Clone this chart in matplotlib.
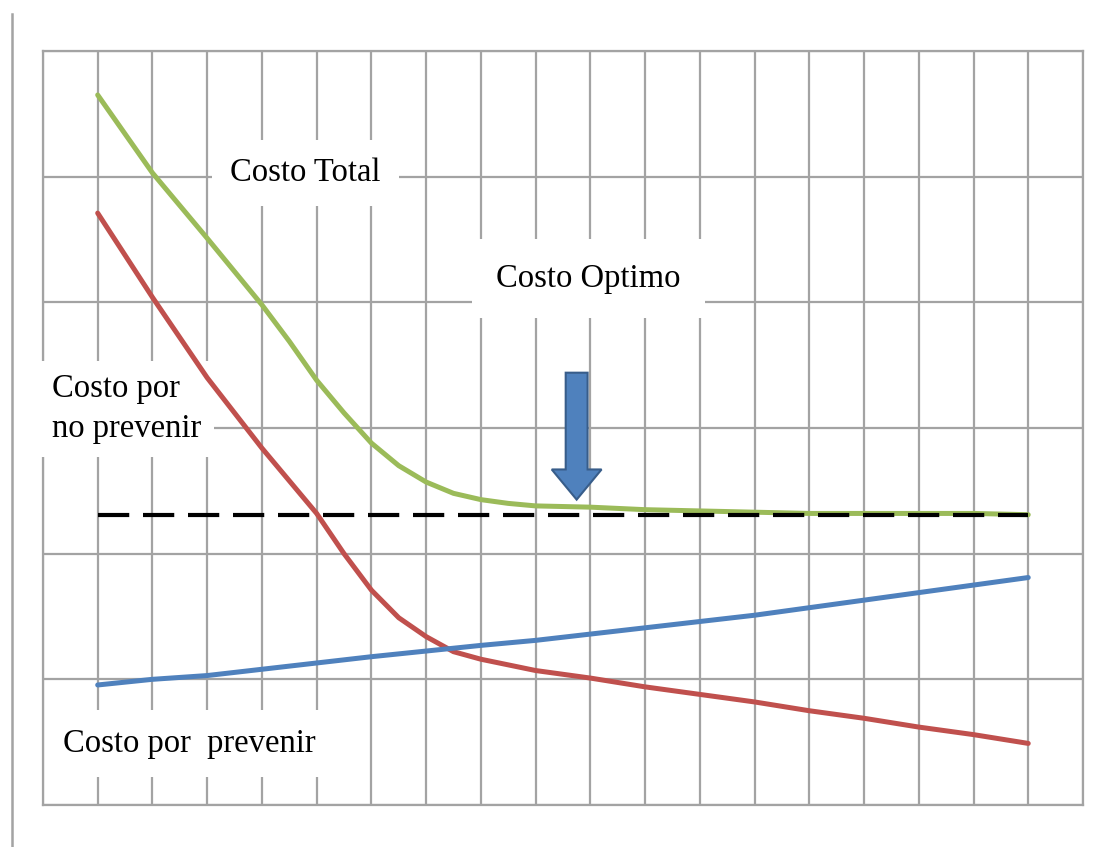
import matplotlib
matplotlib.use('Agg')
from matplotlib import pyplot as plt
from matplotlib.lines import Line2D

# periodos (eje x) y costos
x_total = [1, 2, 3, 4, 4.5, 5, 5.5, 6, 6.5, 7, 7.5, 8, 8.5, 9,
           10, 11, 12, 13, 14, 15, 16, 17, 18]
costo_total = [5.65, 5.03, 4.51, 3.98, 3.69, 3.38, 3.12, 2.88, 2.70, 2.57, 2.48, 2.43,
               2.40, 2.38, 2.37, 2.35, 2.34, 2.33, 2.32, 2.32, 2.32, 2.32, 2.31]
x_no_prevenir = [1, 2, 3, 4, 5, 5.5, 6, 6.5, 7, 7.5, 8, 9,
                 10, 11, 12, 13, 14, 15, 16, 17, 18]
costo_no_prevenir = [4.71, 4.04, 3.40, 2.84, 2.32, 2.00, 1.71, 1.49, 1.34, 1.22, 1.16,
                     1.07, 1.01, 0.94, 0.88, 0.82, 0.75, 0.69, 0.62, 0.56, 0.49]
x_prevenir = list(range(1, 19))
costo_prevenir = [0.955, 1.00, 1.03, 1.08, 1.13, 1.18, 1.225, 1.27, 1.31, 1.36,
                  1.41, 1.46, 1.51, 1.57, 1.63, 1.69, 1.75, 1.81]
nivel_optimo = 2.31
periodo_optimo = 9.75

verde = '#9BBB59'
rojo = '#C0504D'
azul = '#4F81BD'
gris = '#a3a3a3'

plt.rcParams['font.family'] = ['Liberation Serif', 'DejaVu Serif']

fig = plt.figure(figsize=(11.07, 8.47), dpi=100)
ax = fig.add_axes([0.0388, 0.0496, 0.9395, 0.8902])
ax.set_xlim(0, 19)
ax.set_ylim(0, 6)
ax.set_xticks(range(0, 20))
ax.set_yticks(range(0, 7))
ax.tick_params(left=False, bottom=False, labelleft=False, labelbottom=False)
ax.grid(True, color=gris, linewidth=1.6, zorder=0)
ax.set_axisbelow(True)
for sp in ax.spines.values():
    sp.set_color(gris)
    sp.set_linewidth(1.6)

# linea vertical a la izquierda de la figura
fig.add_artist(Line2D([12 / 1107, 12 / 1107], [0, 1 - 14 / 847],
                      transform=fig.transFigure, color=gris, linewidth=1.8))

estilo = dict(linewidth=3.6, zorder=4, solid_capstyle='round', solid_joinstyle='round')
ax.plot(x_total, costo_total, color=verde, **estilo)
ax.plot(x_no_prevenir, costo_no_prevenir, color=rojo, **estilo)
ax.plot(x_prevenir, costo_prevenir, color=azul, **estilo)
ax.plot([x_prevenir[0], x_prevenir[-1]], [nivel_optimo, nivel_optimo], color='black',
        linewidth=3.0, dashes=(7.5, 3.3), zorder=5)

# flecha del costo optimo
ax.arrow(periodo_optimo, 3.44, 0, nivel_optimo + 0.12 - 3.44, width=0.40,
         head_width=0.91, head_length=0.24, length_includes_head=True,
         facecolor=azul, edgecolor='#385D8A', linewidth=1.5, zorder=6)

fs = 23.5
ax.text(4.8, 5.03, 'Costo Total', fontsize=fs, ha='center', va='center',
        bbox=dict(boxstyle='square,pad=0.55', facecolor='white', edgecolor='none'),
        zorder=3)
ax.text(9.97, 4.19, 'Costo Optimo', fontsize=fs, ha='center', va='center',
        bbox=dict(boxstyle='square,pad=0.75', facecolor='white', edgecolor='none'),
        zorder=3)
ax.text(0.16, 3.15, 'Costo por\nno prevenir', fontsize=fs, ha='left', va='center',
        linespacing=1.4,
        bbox=dict(boxstyle='square,pad=0.4', facecolor='white', edgecolor='none'),
        zorder=3)
ax.text(0.37, 0.49, 'Costo por  prevenir', fontsize=fs, ha='left', va='center',
        bbox=dict(boxstyle='square,pad=0.55', facecolor='white', edgecolor='none'),
        zorder=3)

fig.savefig('out.png', dpi=100, facecolor='white')
